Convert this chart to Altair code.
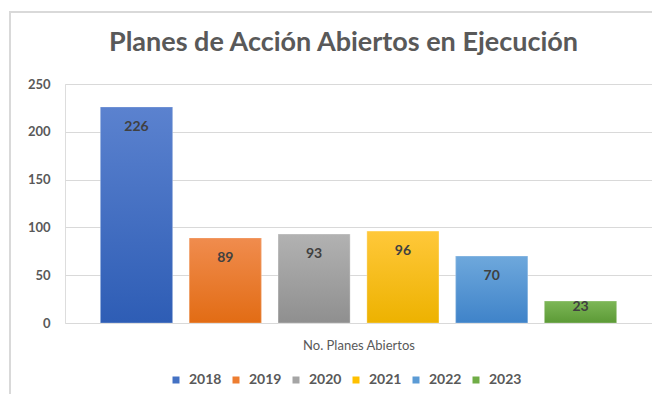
import altair as alt
import pandas as pd

years = ["2018", "2019", "2020", "2021", "2022", "2023"]
values = [226, 89, 93, 96, 70, 23]
base_colors = ["#4472C4", "#ED7D31", "#A5A5A5", "#FFC000", "#5B9BD5", "#70AD47"]
top_colors = ["#5B82CF", "#F08C4E", "#B2B2B2", "#FFC83A", "#6EA8DC", "#7DB757"]
bottom_colors = ["#2E5DB5", "#E26C14", "#8F8F8F", "#EDB200", "#3F83C9", "#5C9A36"]

df = pd.DataFrame({"year": years, "value": values})

FONT = "Lato"
TXT = "#595959"

y_scale = alt.Scale(domain=[0, 250], nice=False)

x_enc = alt.X(
    "year:N",
    sort=years,
    scale=alt.Scale(paddingInner=0.19, paddingOuter=0.4),
    axis=alt.Axis(
        title="No. Planes Abiertos",
        labels=False,
        ticks=False,
        domain=False,
        titleFont=FONT,
        titleFontSize=13,
        titleFontWeight="normal",
        titleColor=TXT,
        titlePadding=16,
    ),
)
y_enc = alt.Y(
    "value:Q",
    scale=y_scale,
    axis=alt.Axis(
        title=None,
        values=[0, 50, 100, 150, 200, 250],
        ticks=False,
        domain=False,
        labelFont=FONT,
        labelFontSize=13,
        labelFontWeight="bold",
        labelColor=TXT,
        labelPadding=15,
        gridColor="#D9D9D9",
        gridWidth=1,
    ),
)

frame = alt.Chart(df).mark_rect(fill=None, stroke="#D9D9D9", strokeWidth=1.5).encode(
    x=alt.value(-55), x2=alt.value(700), y=alt.value(-72), y2=alt.value(400)
)

base = alt.Chart(df).mark_bar().encode(
    x=x_enc,
    y=y_enc,
    color=alt.Color(
        "year:N",
        sort=years,
        scale=alt.Scale(domain=years, range=base_colors),
        legend=alt.Legend(
            title=None,
            orient="none",
            direction="horizontal",
            legendX=104,
            legendY=289,
            symbolType="square",
            symbolSize=49,
            symbolStrokeWidth=0,
            labelFont=FONT,
            labelFontSize=14,
            labelFontWeight="bold",
            labelColor=TXT,
            columnPadding=7,
            symbolOffset=0,
            labelOffset=6,
        ),
    ),
)

layers = [frame, base]
for yr, tc, bc in zip(years, top_colors, bottom_colors):
    grad = alt.Gradient(
        gradient="linear",
        x1=0, x2=0, y1=0, y2=1,
        stops=[alt.GradientStop(color=tc, offset=0), alt.GradientStop(color=bc, offset=1)],
    )
    layers.append(
        alt.Chart(df)
        .transform_filter(alt.datum.year == yr)
        .mark_bar(color=grad, stroke="#FFFFFF", strokeOpacity=0.35, strokeWidth=0.8)
        .encode(x=alt.X("year:N", sort=years), y=alt.Y("value:Q", scale=y_scale))
    )

labels = (
    alt.Chart(df)
    .transform_calculate(labpos="max(datum.value - 20.5, 16.5)")
    .mark_text(font=FONT, fontSize=14, fontWeight="bold", color="#404040", baseline="middle")
    .encode(
        x=alt.X("year:N", sort=years),
        y=alt.Y("labpos:Q", scale=y_scale),
        text=alt.Text("value:Q"),
    )
)
layers.append(labels)

chart = (
    alt.layer(*layers)
    .properties(
        width=587,
        height=239,
        padding={"left": 57, "top": 76, "right": 0, "bottom": 71},
        autosize=alt.AutoSizeParams(type="none"),
        title=alt.TitleParams(
            "Planes de Acción Abiertos en Ejecución",
            font=FONT,
            fontSize=27,
            fontWeight="bold",
            color=TXT,
            anchor="middle",
            dx=-15,
            offset=-46,
        ),
    )
    .configure_view(stroke=None)
    .configure(background="white")
)

chart.save("out.html", embed_options={"renderer": "svg", "actions": False})
